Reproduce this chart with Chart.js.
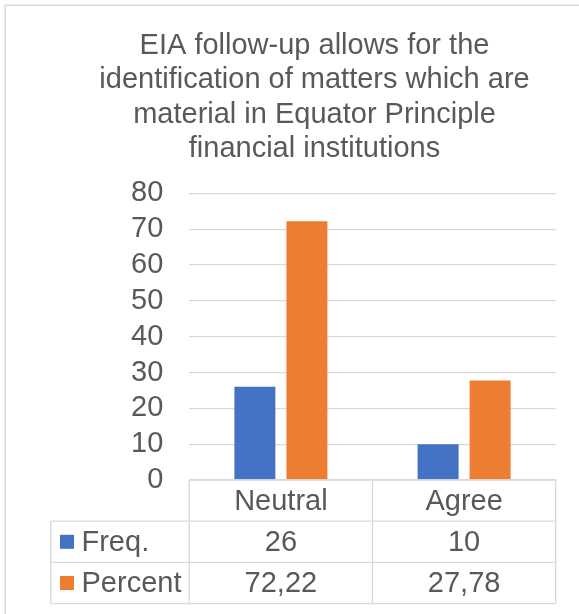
<!DOCTYPE html>
<html>
<head>
<meta charset="utf-8">
<script src="https://cdn.jsdelivr.net/npm/chart.js@4/dist/chart.umd.min.js"></script>
<style>
  html, body { margin: 0; padding: 0; background: #ffffff; overflow: hidden; }
  #wrap { width: 579px; height: 614px; overflow: hidden; position: relative; }
  canvas { position: absolute; left: 0; top: 0; }
</style>
</head>
<body>
<div id="wrap"><canvas id="c" width="630" height="614" style="width:630px;height:614px"></canvas></div>
<script>
// Survey responses
const categories = ['Neutral', 'Agree'];
const seriesNames = ['Freq.', 'Percent'];
const freqValues = [26, 10];
const percentValues = [72.22, 27.78];
const yTickValues = [0, 10, 20, 30, 40, 50, 60, 70, 80];

const titleLines = [
  'EIA follow-up allows for the',
  'identification of matters which are',
  'material in Equator Principle',
  'financial institutions'
];

const TEXT = '#595959';
const LINE = '#d9d9d9';
const FONT = "'Liberation Sans', Arial, sans-serif";
const colors = ['#4472C4', '#ED7D31'];

const fmt = v => String(v).replace('.', ',');

// Outer frame and white background
const framePlugin = {
  id: 'frame',
  beforeDraw(chart) {
    const ctx = chart.ctx;
    ctx.save();
    ctx.fillStyle = '#ffffff';
    ctx.fillRect(0, 0, chart.width, chart.height);
    ctx.strokeStyle = LINE;
    ctx.lineWidth = 1.5;
    ctx.strokeRect(5.25, 5.25, 619, 700);
    ctx.restore();
  }
};

// Data table under the plot: category header, then one row per series with legend key
const dataTablePlugin = {
  id: 'dataTable',
  afterDraw(chart) {
    const ctx = chart.ctx;
    const area = chart.chartArea;
    const xs = chart.scales.x;
    const rowH = 41.2;
    const top = area.bottom;
    const labelLeft = 50.7;
    const left = area.left, right = area.right;
    const bounds = [left];
    for (let i = 0; i < categories.length - 1; i++) {
      bounds.push((xs.getPixelForValue(i) + xs.getPixelForValue(i + 1)) / 2);
    }
    bounds.push(right);
    const rows = chart.data.datasets.length;
    const bottom = top + rowH * (rows + 1);

    ctx.save();
    ctx.strokeStyle = LINE;
    ctx.lineWidth = 1.3;
    ctx.beginPath();
    // horizontal lines
    ctx.moveTo(left, top); ctx.lineTo(right, top);
    for (let r = 1; r <= rows + 1; r++) {
      const y = top + rowH * r;
      ctx.moveTo(labelLeft, y); ctx.lineTo(right, y);
    }
    // vertical lines
    bounds.forEach(x => { ctx.moveTo(x, top); ctx.lineTo(x, bottom); });
    ctx.moveTo(labelLeft, top + rowH); ctx.lineTo(labelLeft, bottom);
    ctx.stroke();

    ctx.fillStyle = TEXT;
    ctx.font = '29px ' + FONT;
    ctx.textBaseline = 'middle';
    ctx.textAlign = 'center';
    categories.forEach((c, i) => {
      ctx.fillText(c, xs.getPixelForValue(i), top + rowH / 2 + 1);
    });
    chart.data.datasets.forEach((ds, r) => {
      const yc = top + rowH * (r + 1) + rowH / 2 + 1;
      ctx.fillStyle = ds.backgroundColor;
      ctx.fillRect(60, yc - 8, 14, 14);
      ctx.fillStyle = TEXT;
      ctx.textAlign = 'left';
      ctx.fillText(ds.label, 81.5, yc);
      ctx.textAlign = 'center';
      ds.data.forEach((v, i) => {
        ctx.fillText(fmt(v), xs.getPixelForValue(i), yc);
      });
    });
    ctx.restore();
  }
};

new Chart(document.getElementById('c'), {
  type: 'bar',
  data: {
    labels: categories,
    datasets: [
      { label: seriesNames[0], data: freqValues, backgroundColor: colors[0] },
      { label: seriesNames[1], data: percentValues, backgroundColor: colors[1] }
    ]
  },
  options: {
    responsive: false,
    animation: false,
    devicePixelRatio: 1,
    layout: { padding: { left: 5, right: 6, top: 5, bottom: 10 } },
    categoryPercentage: 0.568,
    barPercentage: 0.788,
    plugins: {
      legend: { display: false },
      tooltip: { enabled: false },
      title: {
        display: true,
        text: titleLines,
        color: TEXT,
        font: { family: FONT, size: 29, weight: 'normal', lineHeight: 1.18 },
        padding: { top: 24, bottom: 27.5 }
      }
    },
    scales: {
      x: {
        grid: { display: false },
        border: { display: false },
        ticks: { display: false },
        afterFit(s) { s.height = 124; }
      },
      y: {
        min: 0,
        max: 80,
        afterBuildTicks(s) { s.ticks = yTickValues.map(v => ({ value: v })); },
        grid: { color: LINE, lineWidth: 1.3, drawTicks: false },
        border: { display: false },
        ticks: {
          color: TEXT,
          padding: 26,
          autoSkip: false,
          font: { family: FONT, size: 29 }
        },
        afterFit(s) { s.width = 184.3; }
      },
      yRight: {
        type: 'linear',
        position: 'right',
        grid: { display: false },
        border: { display: false },
        ticks: { display: false },
        afterFit(s) { s.width = 68.3; }
      }
    }
  },
  plugins: [framePlugin, dataTablePlugin]
});
</script>
</body>
</html>
